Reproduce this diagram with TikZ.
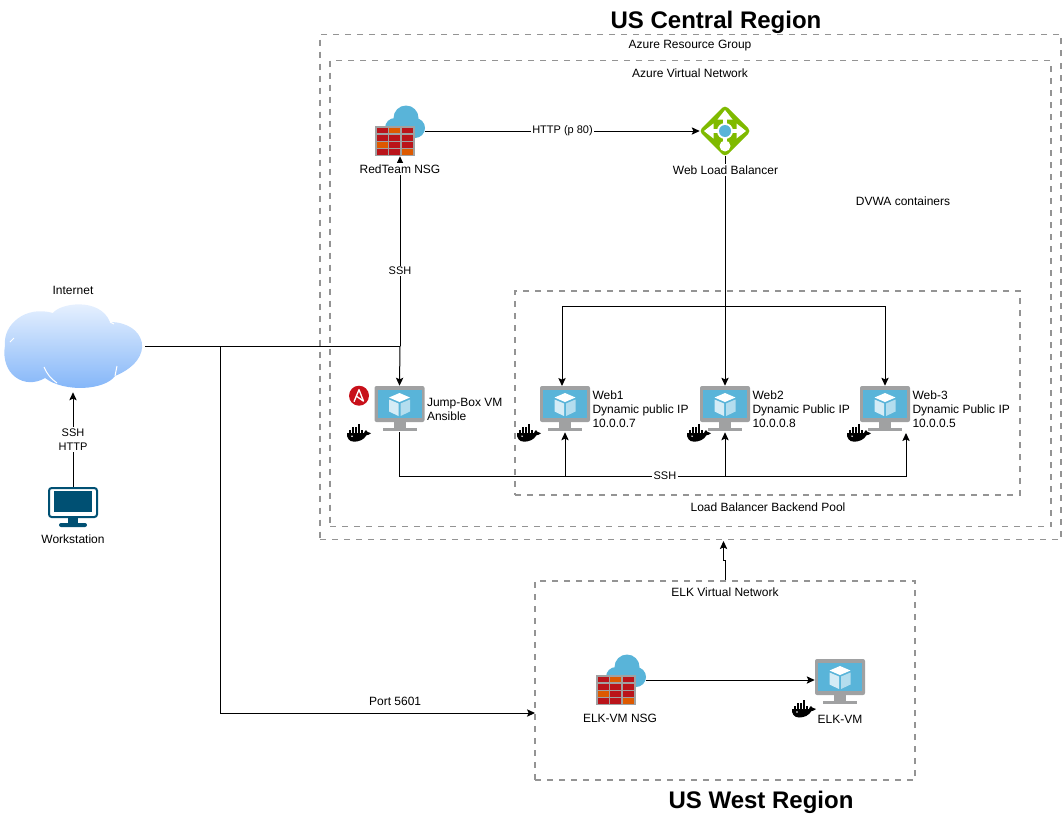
\documentclass[tikz,border=0pt]{standalone}
\usepackage{fontspec}
\setmainfont{Liberation Sans}
\usetikzlibrary{arrows.meta,positioning}

\definecolor{azureblue}{HTML}{59B4D9}
\definecolor{azuregray}{HTML}{A0A1A2}
\definecolor{brickred}{HTML}{BA141A}
\definecolor{brickorange}{HTML}{DD5900}
\definecolor{ansiblered}{HTML}{C8101A}
\definecolor{lbgreen}{HTML}{7FBA00}
\definecolor{wsblue}{HTML}{005073}
\definecolor{cloudtop}{HTML}{EEF5FF}
\definecolor{cloudbottom}{HTML}{7FB3F8}

\tikzset{
  vmicon/.pic={
    \fill[azuregray, rounded corners=1.5] (-25,-23) rectangle (25,13);
    \fill[azureblue] (-22,-19.5) rectangle (22,9);
    \fill[azuregray] (-6,13) rectangle (6,19);
    \fill[azuregray] (-17,19) rectangle (17,22);
    \fill[white] (0,-16) -- (10.5,-11.5) -- (0,-7) -- (-10.5,-11.5) -- cycle;
    \fill[white!75!azureblue] (-10.5,-9.5) -- (-1,-5.5) -- (-1,7) -- (-10.5,2.5) -- cycle;
    \fill[white!55!azureblue] (10.5,-9.5) -- (1,-5.5) -- (1,7) -- (10.5,2.5) -- cycle;
  },
  nsgicon/.pic={
    \fill[azureblue] (6,-13) circle (12.5);
    \fill[azureblue] (-5,-3) circle (10);
    \fill[azureblue] (15,-3) circle (10);
    \fill[azureblue] (-5,-6) rectangle (15,7);
    \fill[azuregray] (-25,-5) rectangle (15,25);
    \foreach \row in {0,1,2,3}
      \foreach \col in {0,1,2}
        \fill[brickred] (-23.3+12.7*\col,-3+7.1*\row) rectangle ++(11,5.4);
    \fill[brickorange] (-10.6,-3) rectangle ++(11,5.4);
    \fill[brickorange] (-23.3,11.2) rectangle ++(11,5.4);
    \fill[brickorange] (2.1,18.3) rectangle ++(11,5.4);
  },
  lbicon/.pic={
    \fill[lbgreen, rounded corners=3] (0,-26) -- (26,0) -- (0,26) -- (-26,0) -- cycle;
    \draw[white, line width=2.4pt] (-14,0) -- (14,0) (0,-14) -- (0,14);
    \fill[white] (0,-21) -- (7.5,-11.5) -- (-7.5,-11.5) -- cycle;
    \fill[white] (-21,0) -- (-11.5,-7.5) -- (-11.5,7.5) -- cycle;
    \fill[white] (21,0) -- (11.5,-7.5) -- (11.5,7.5) -- cycle;
    \fill[white] (0,15) circle (5.5);
    \fill[white] (0,0) circle (8);
    \fill[azureblue] (0,0) circle (6);
  },
  wsicon/.pic={
    \draw[wsblue, line width=1.5pt, rounded corners=2, fill=white] (-24,-19) rectangle (24,10);
    \fill[wsblue] (-19,-16) rectangle (19,5);
    \fill[wsblue] (-5,10) rectangle (5,16);
    \fill[wsblue, rounded corners=1.5] (-14,16) rectangle (14,20);
  },
  whaleicon/.pic={
    \fill[black] (0,7.5) -- (17,7.5) .. controls (17.5,6) and (18,5) .. (19,4.5)
      .. controls (19.5,6) and (21,6.5) .. (24,7.5)
      .. controls (22,9) and (21,9.5) .. (19.5,9.5)
      .. controls (17,14) and (12,16) .. (7,16)
      .. controls (2,16) and (-0.5,12) .. (0,7.5) -- cycle;
    \foreach \bx in {1.5,4.5,7.5,10.5,13.5}
      \fill[black] (\bx,4.4) rectangle ++(2.7,2.7);
    \foreach \bx in {4.5,7.5,10.5}
      \fill[black] (\bx,1.4) rectangle ++(2.7,2.7);
    \fill[black] (10.5,-1.4) rectangle ++(2.7,2.5);
    \fill[white] (5,10.5) circle (0.8);
  },
  ansibleicon/.pic={
    \fill[ansiblered] (0,0) circle (10);
    \draw[white, line width=1pt, line join=round] (-5,6) -- (0,-6) -- (4.5,5.5) -- (-2.5,0.5);
  },
}

\begin{document}
\begin{tikzpicture}
      [x=0.75pt, y=-0.75pt,
      lbl/.style={font=\fontsize{9}{10.5}\selectfont, inner sep=0pt, align=center},
      vmtext/.style={lbl, align=left},
      onwire/.style={lbl, font=\fontsize{8.25}{10.5}\selectfont, fill=white, inner sep=1pt},
      titlelbl/.style={font=\fontsize{18}{21}\selectfont\bfseries, inner sep=0pt},
      frame/.style={draw=black!42, line width=1.4pt, dash pattern=on 4.5pt off 4.5pt, inner sep=0pt},
      vmbox/.style={minimum width=37.5pt, minimum height=34.5pt, inner sep=0pt, node distance=120pt},
      nsgbox/.style={minimum width=37.5pt, minimum height=37.5pt, inner sep=0pt},
      wire/.style={-{Stealth[length=6pt, width=5.5pt, inset=1.2pt]}, line width=0.75pt},
      plainwire/.style={line width=0.75pt},
      ]
      \useasboundingbox (0,0) rectangle (1062,821);

      % frames
      \node[frame, minimum width=555.75pt, minimum height=378.75pt] (rgroup) at (690.5,287) {};
      \node[frame, minimum width=540.75pt, minimum height=349.5pt] (vnet) at (690.5,293.5) {};
      \node[frame, minimum width=378.75pt, minimum height=153pt] (pool) at (767.5,393) {};
      \node[frame, minimum width=285pt, minimum height=149.25pt] (elkvnet) at (725,680.5) {};

      % icons
      \node[minimum width=108.75pt, minimum height=69pt, inner sep=0pt] (internet) at (72.5,346) {};
      \shade[top color=cloudtop, bottom color=cloudbottom]
        (5,345) .. controls (3,325) and (25,305) .. (53,313)
        .. controls (60,303) and (100,297) .. (110,322)
        .. controls (145,322) and (158,358) .. (115,376)
        .. controls (105,390) and (65,393) .. (45,378)
        .. controls (25,390) and (0,375) .. (5,345) -- cycle;
      \draw[white, line width=0.75pt] (44,367) .. controls (47,374) and (51,379) .. (57,383)
        (117,366) -- (115,376) (110,322) -- (114,324) (10,342) -- (14,338);

      \node[minimum width=37.5pt, minimum height=30pt, inner sep=0pt] (workstation) at (73,507) {};
      \pic at (workstation) {wsicon};

      \node[nsgbox] (redteam) at (400,131) {};
      \pic at (redteam) {nsgicon};
      \node[nsgbox] (balancer) at (725,131) {};
      \pic at (balancer) {lbicon};

      \node[vmbox] (jump) at (399.5,409) {};
      \node[vmbox] (web1) at (565,409) {};
      \node[vmbox, right of=web1] (web2) {};
      \node[vmbox, right of=web2] (web3) {};
      \node[vmbox] (elkvm) at (840,682) {};
      \node[nsgbox] (elknsg) at (621,680) {};
      \foreach \vm in {jump,web1,web2,web3,elkvm}
        \pic at (\vm) {vmicon};
      \pic at (elknsg) {nsgicon};

      \pic at (347,425.7) {whaleicon};
      \pic at (517,425.7) {whaleicon};
      \pic at (687,425.7) {whaleicon};
      \pic at (847,425.7) {whaleicon};
      \pic at (792,701.5) {whaleicon};
      \pic at (359,395.7) {ansibleicon};

      % junctions
      \coordinate (jct) at (400,346);
      \coordinate (elkjct) at (220,346);
      \coordinate (elkport) at (535,713);
      \coordinate (bus) at (0,476);
      \coordinate (loop) at (0,306);
      \coordinate (web1top) at (562,386);
      \coordinate (web3in) at (906,433);
      \coordinate (rgin) at (723.5,541);

      % connectors
      \draw[wire] (workstation.north) -- node[onwire] {SSH\\HTTP} (workstation.north |- internet.south);
      \draw[plainwire] (internet.east) -- (jct);
      \draw[wire] (jct) -- (jump.north);
      \draw[wire] (jct) -- node[onwire, pos=0.395] {SSH} (redteam.south);
      \draw[wire] (elkjct) |- node[lbl, above=5.5pt, pos=0.778] {Port 5601} (elkport);
      \draw[wire] (redteam.east) -- node[onwire, pos=0.5] {HTTP (p 80)} (balancer.west);
      \draw[wire] (balancer.south) -- (web2.north);
      \draw[wire] (jump.south) |- node[onwire, pos=0.762] {SSH} (bus -| web3in) -- (web3in);
      \draw[wire] (web1.south |- bus) -- (web1.south);
      \draw[wire] (web2.south |- bus) -- (web2.south);
      \draw[wire, <->, >={Stealth[length=6pt, width=5.5pt, inset=1.2pt]}] (web1top) |- (loop -| web3.north) -- (web3.north);
      \draw[wire] (elkvnet.north) -- ++(0,-20) -- ++(-1.5,0) -- (rgin);
      \draw[wire] (elknsg.east) -- (elkvm.west |- elknsg.east);

      % labels
      \node[titlelbl] (central) at (716,22.5) {US Central Region};
      \node[titlelbl] (west) at (761,802.5) {US West Region};
      \node[lbl] (rgrouptxt) at (690,46) {Azure Resource Group};
      \node[lbl] (vnettxt) at (690,73) {Azure Virtual Network};
      \node[lbl] (pooltxt) at (768,507) {Load Balancer Backend Pool};
      \node[lbl] (elkvnettxt) at (725,592) {ELK Virtual Network};
      \node[lbl] (dvwa) at (903,201) {DVWA containers};
      \node[lbl] (internettxt) at (73,290) {Internet};
      \node[lbl] (workstationtxt) at (73,539) {Workstation};
      \node[lbl, fill=white, inner sep=1pt] (redteamtxt) at (400,169) {RedTeam NSG};
      \node[lbl, fill=white, inner sep=1pt] (balancertxt) at (725.5,170) {Web Load Balancer};
      \node[lbl] (elknsgtxt) at (620,718) {ELK-VM NSG};
      \node[lbl] (elkvmtxt) at (840,719) {ELK-VM};
      \node[vmtext, right=1.5pt of jump] (jumptxt) {Jump-Box VM\\Ansible};
      \node[vmtext, right=1.5pt of web1] (web1txt) {Web1\\Dynamic public IP\\10.0.0.7};
      \node[vmtext, right=1.5pt of web2] (web2txt) {Web2\\Dynamic Public IP\\10.0.0.8};
      \node[vmtext, right=1.5pt of web3] (web3txt) {Web-3\\Dynamic Public IP\\10.0.0.5};
    \end{tikzpicture}
\end{document}
